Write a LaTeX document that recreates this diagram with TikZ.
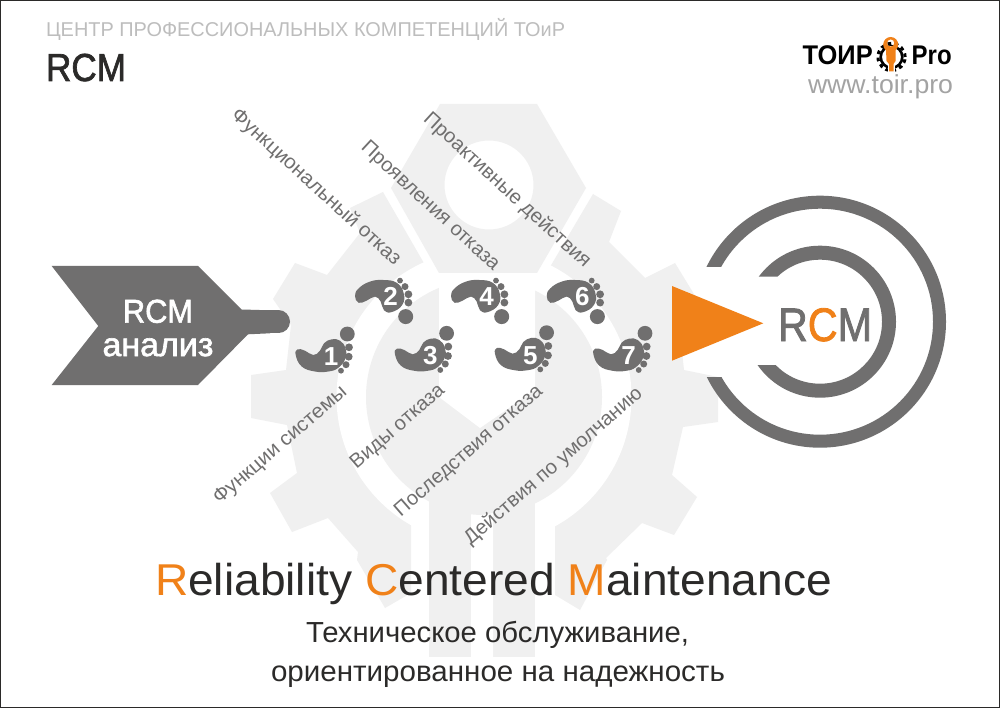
\documentclass[tikz,border=0pt]{standalone}
\usepackage{graphicx}
\usepackage{fontspec}
\setmainfont{Liberation Sans}
\newfontfamily\semif[FakeBold=1.8]{Liberation Sans}
\usetikzlibrary{calc}
\definecolor{ggray}{HTML}{706F6F}
\definecolor{bgear}{HTML}{F0F0F0}
\definecolor{orng}{HTML}{F08119}
\definecolor{ink}{HTML}{2B2A29}
\definecolor{lgray}{HTML}{BDBDBD}
\definecolor{wgray}{HTML}{A3A3A3}
\newsavebox\rsbox
\newcommand\fitx[2]{\sbox\rsbox{#2}\pgfmathsetmacro\rsf{#1/\wd\rsbox}\scalebox{\rsf}[1]{\usebox\rsbox}}
\newcommand\fsz[1]{\fontsize{#1pt}{#1pt}\selectfont}
\tikzset{
  x=1pt,y=-1pt,
  txt/.style={inner sep=0pt,outer sep=0pt,anchor=base west},
  steplabel/.style={inner sep=0pt,outer sep=0pt,anchor=center,text=ggray,font=\fsz{20}},
  bgfill/.style={fill=bgear,draw=none},
  white cut/.style={fill=white,draw=none},
  footfill/.style={fill=ggray,draw=none},
  footnum/.style={inner sep=0pt,text=white,font=\fsz{26}\bfseries},
  pics/footup/.style={code={
    \fill[footfill] plot[smooth cycle,tension=.75] coordinates {(-24.3,0) (-22.3,-5.7) (-15,-4.3) (-6.7,0) (0,-4.3) (4,-11.7) (11.7,-15.7) (20,-14.3) (25.5,-6.7) (25.5,3.3) (18.3,12.8) (8.3,16.5) (-5,16.5) (-18.3,11.5)};
    \fill[footfill] (27.3,-21) circle (7.4pt) (29,-7.7) circle (3.9pt) (28.7,1.7) circle (3.9pt) (26,9.7) circle (3.5pt) (21,15.7) circle (2.9pt);
    \node[footnum] (n#1) at (11,1.7) {#1};
  }},
  pics/footdown/.style={code={
    \fill[footfill] plot[smooth cycle,tension=.75] coordinates {(-23.7,0.7) (-20,-7) (-8.7,-13.7) (4.7,-15.3) (18,-12.5) (25,-2) (23.5,9.7) (13,16.8) (5.3,15) (2,6.3) (-3.7,1.3) (-12,5.3) (-20,7.5)};
    \fill[footfill] (27,21.3) circle (7.5pt) (29.7,7.3) circle (3.9pt) (29.7,-1) circle (3.9pt) (26.3,-8.7) circle (3.5pt) (21.3,-14.7) circle (2.9pt);
    \node[footnum] (n#1) at (12,1.3) {#1};
  }},
}
\begin{document}
\begin{tikzpicture}
\useasboundingbox (0,0) rectangle (1000,708);
\fill[white] (0,0) rectangle (1000,708);
% background gear
\fill[bgfill] (425,265)--(383,192)--(350,208)--(360,233)--(327,275)--(295,263)--(273,299)--(291,325)--(286,370)--(251,375)--(251,418)--(287,425)--(297,473)--(270,493)--(292,532)--(328,518)--(358,552)--(357,560)--(385,608)--(411,593)--(411,500)--(555,500)--(555,595)--(580,610)--(607,560)--(606,558)--(642,523)--(674,535)--(697,497)--(672,475)--(683,427)--(718,422)--(718,377)--(684,370)--(679,325)--(697,299)--(675,263)--(645,278)--(609,242)--(621,211)--(593,194)--(550,267)--cycle;
\fill[white cut] (484,397) circle (147.5pt);
\fill[bgfill] (484,397) circle (118pt);
\fill[white cut] (439,275)--(439,397)--(480,428)--(535,390)--(535,275)--cycle;
\fill[bgfill] (429,480) rectangle (471,657);
\fill[bgfill] (493,480) rectangle (535,657);
\fill[white cut] (471,517)--(493,513)--(493,660)--(471,660)--cycle;
% hexagon nut
\fill[bgfill,even odd rule] (440,104)--(537,104)--(586,188)--(537,273)--(439,273)--(391,188)--cycle (489,185) circle (44.5pt);
% left arrow
\fill[ggray] (51.7,266)--(198,266)--(241.7,309.5)--(270,310.3)--(270,333.3)--(248,334.3)--(198,385)--(51.7,385)--(98.3,326)--cycle;
\draw[ggray,line width=23pt,line cap=round] (260,321.8)--(278.5,321.8);
\node[txt,text=white] (arrowa) at (123,322.7) {\fitx{70}{\semif\fsz{33}RCM}};
\node[txt,text=white] (arrowb) at (102.5,356) {\fitx{111}{\semif\fsz{33}анализ}};
% target rings
\begin{scope}
\clip (680,180) rectangle (960,267) (680,377) rectangle (960,470) (800,180) rectangle (960,470);
\fill[ggray,even odd rule] (820,321.7) circle (126pt) (820,321.7) circle (113pt);
\end{scope}
\begin{scope}
\clip (700,230) rectangle (920,276.7) (700,365) rectangle (920,420) (800,230) rectangle (920,420);
\fill[ggray,even odd rule] (820,321.7) circle (76pt) (820,321.7) circle (62pt);
\end{scope}
\fill[orng] (672,286)--(763.3,323.3)--(672,360.7)--cycle;
\node[txt,text=ggray] (rcmt) at (778,341) {\fitx{94}{\semif\fsz{47}R\textcolor{orng}{C}M}};
% feet
\pic at (320,355) {footup=1};
\pic at (378.7,295.3) {footdown=2};
\pic at (419.3,354.3) {footup=3};
\pic at (474.7,295.3) {footdown=4};
\pic at (519.3,353.7) {footup=5};
\pic at (570.4,295.3) {footdown=6};
\pic at (617.7,354.3) {footup=7};
% labels
\node[steplabel,rotate=41] (l1) at (280.5,445.5) {\fitx{170}{Функции системы}};
\node[steplabel,rotate=-42.4] (l2) at (316,187.5) {\fitx{222}{Функциональный отказ}};
\node[steplabel,rotate=41] (l3) at (398,427) {\fitx{118}{Виды отказа}};
\node[steplabel,rotate=-42.8] (l4) at (430,206.5) {\fitx{181}{Проявления отказа}};
\node[steplabel,rotate=41] (l5) at (469,451.5) {\fitx{189}{Последствия отказа}};
\node[steplabel,rotate=-42.5] (l6) at (507,190.5) {\fitx{219}{Проактивные действия}};
\node[steplabel,rotate=41] (l7) at (553.5,466.5) {\fitx{229}{Действия по умолчанию}};
% header
\node[txt,text=lgray] (head) at (46,37) {\fitx{519}{\fsz{20}ЦЕНТР ПРОФЕССИОНАЛЬНЫХ КОМПЕТЕНЦИЙ ТОиР}};
\node[txt,text=ink] (title) at (46,81) {\fitx{80}{\semif\fsz{39}RCM}};
% logo
\node[txt,text=black] (lt) at (802.7,64.3) {\fitx{70}{\fsz{27}\bfseries ТОИР}};
\node[txt,text=black] (lp) at (911.7,64.3) {\fitx{40}{\fsz{27}\bfseries Pro}};
\node[txt,text=wgray] (lw) at (808,94) {\fitx{145}{\fsz{26}www.toir.pro}};
\draw[black,line width=2.6pt] (891.5,57) circle (10.8pt);
\draw[black,line width=3pt,dash pattern=on 3.6pt off 3.6pt] (891.5,57) circle (13.6pt);
\draw[white,line width=7pt] (891,46)--(891,72);
\fill[orng] (886,50)--(895.5,50)--(895.5,61)--(893.5,64)--(893.5,71.5)--(889,71.5)--(889,64)--(886.5,61)--cycle;
\fill[orng,even odd rule] (890.7,44.5) circle (7.5pt) (890.7,43) circle (3.6pt);
% bottom text
\node[txt,text=ink] (big) at (155,595) {\fitx{677}{\fsz{44.6}\textcolor{orng}{R}eliability \textcolor{orng}{C}entered \textcolor{orng}{M}aintenance}};
\node[txt,text=ink] (sub1) at (306,642.7) {\fitx{383}{\fsz{29}Техническое обслуживание,}};
\node[txt,text=ink] (sub2) at (271,681) {\fitx{454}{\fsz{29}ориентированное на надежность}};
% frame
\draw[ink,line width=2pt] (0,0) rectangle (1000,708);
\end{tikzpicture}
\end{document}
